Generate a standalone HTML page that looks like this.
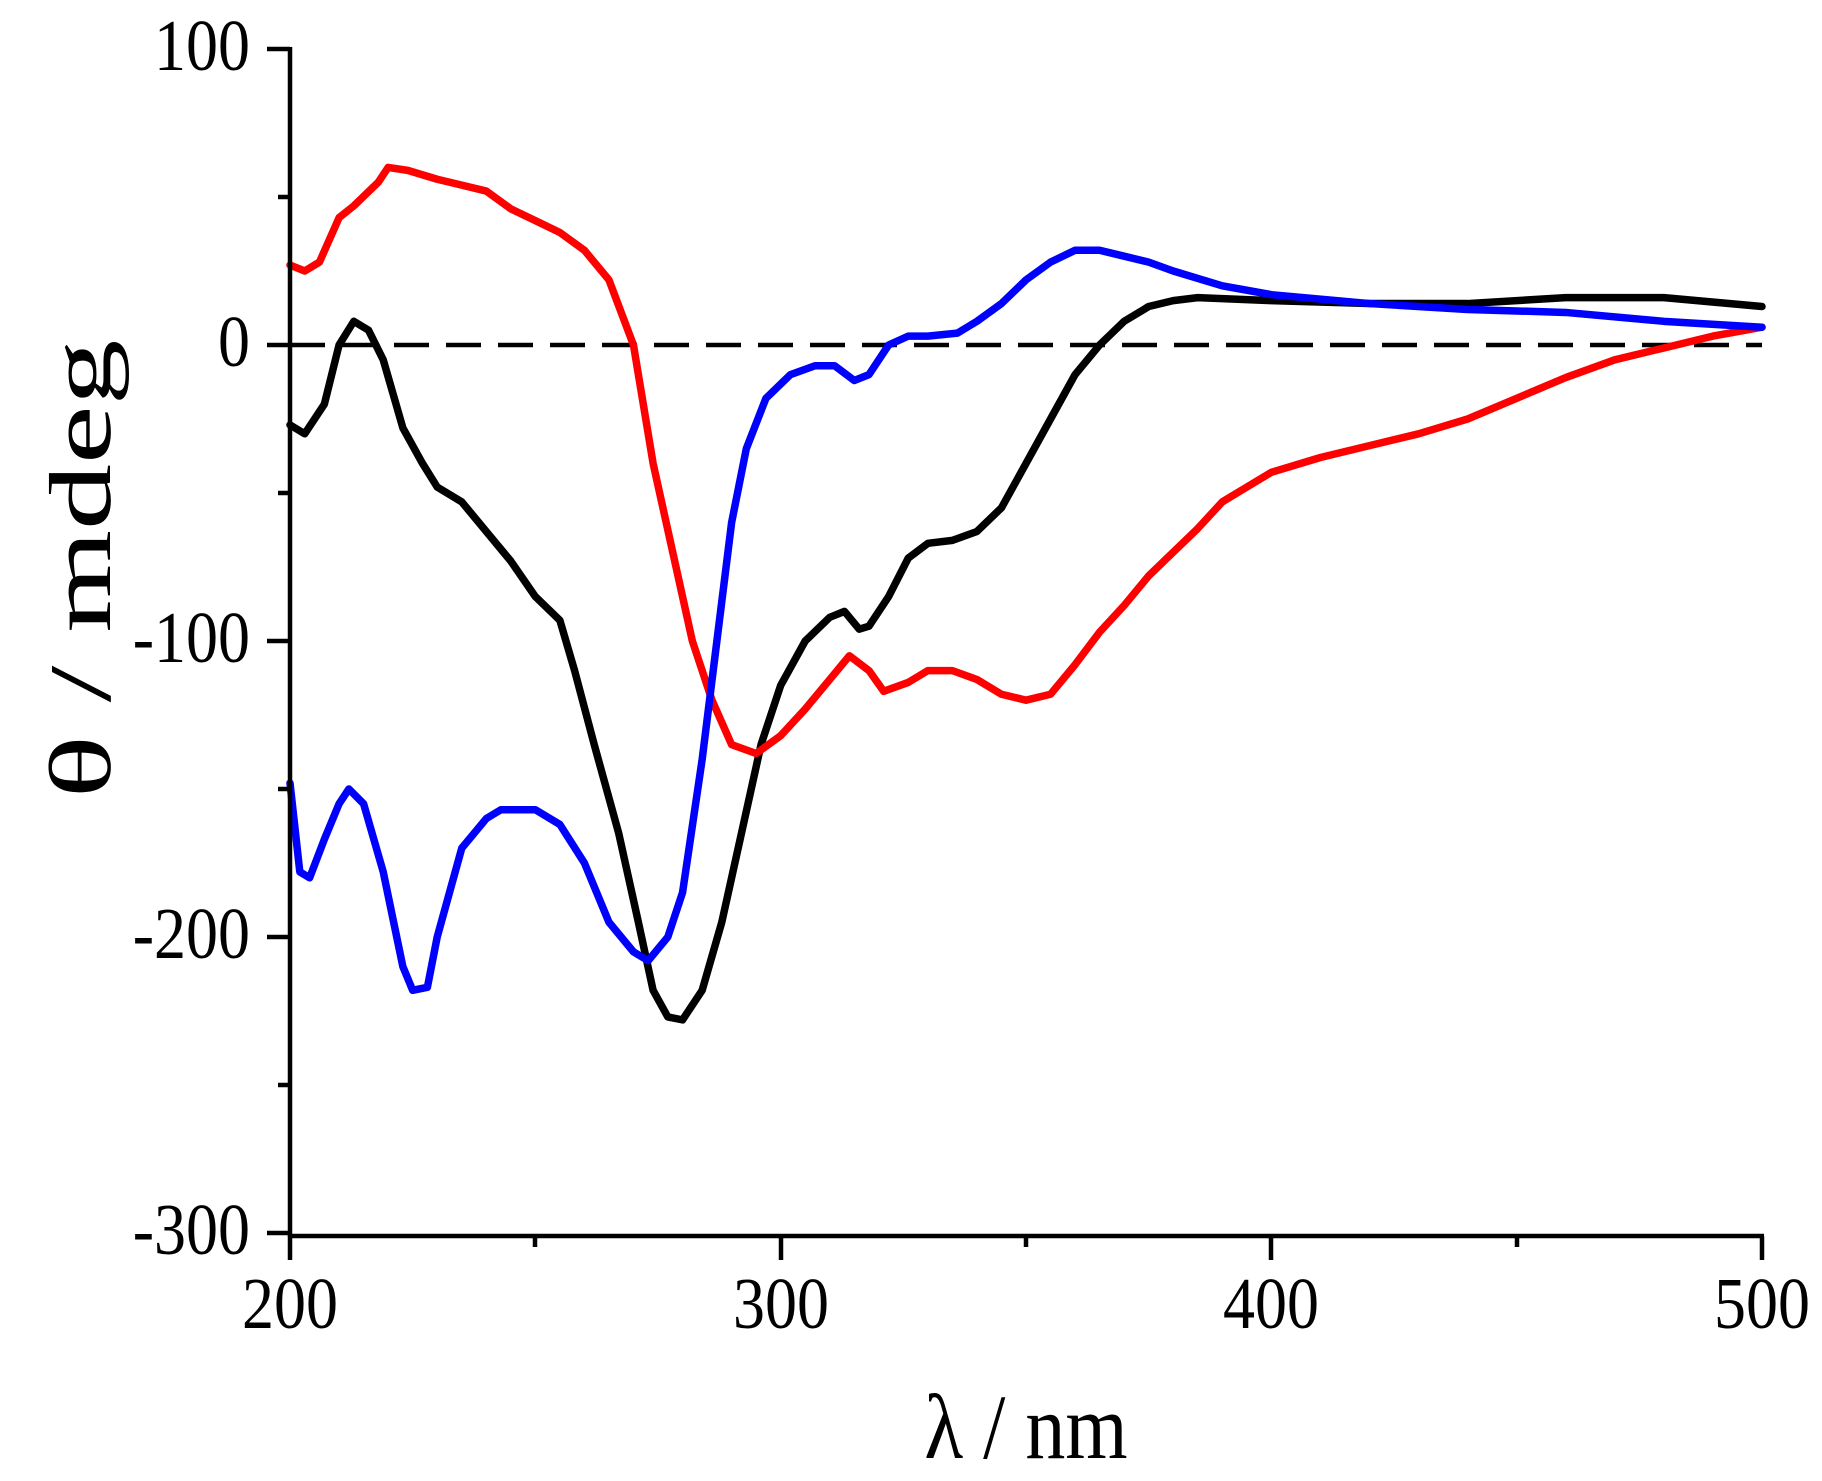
<!DOCTYPE html>
<html><head><meta charset="utf-8"><style>
html,body{margin:0;padding:0;background:#fff;}
svg{display:block;}
text{font-family:"Liberation Serif",serif;fill:#000;}
</style></head><body>
<svg width="1822" height="1481" viewBox="0 0 1822 1481" xmlns="http://www.w3.org/2000/svg">
<rect width="1822" height="1481" fill="#fff"/>
<g transform="translate(290,345) scale(4.9067,-2.96) translate(-200,0)" fill="none" stroke-linejoin="round" stroke-linecap="round">
<line x1="200" y1="0" x2="500" y2="0" stroke="#000" stroke-width="4.5" stroke-dasharray="35 17" vector-effect="non-scaling-stroke" stroke-linecap="butt"/>
<polyline vector-effect="non-scaling-stroke" stroke="#000" stroke-width="7.5" points="200,-27 203,-30 207,-20 210,0 213,8 216,5 219,-5 223,-28 227,-40 230,-48 235,-53 240,-63 245,-73 250,-85 255,-93 258,-110 262,-135 267,-165 271,-195 274,-218 277,-227 280,-228 284,-218 288,-195 292,-165 296,-135 300,-115 305,-100 310,-92 313,-90 316,-96 318,-95 322,-85 326,-72 330,-67 335,-66 340,-63 345,-55 350,-40 355,-25 360,-10 365,0 370,8 375,13 380,15 385,16 400,15 420,14 440,14 460,16 480,16 500,13"/>
<polyline vector-effect="non-scaling-stroke" stroke="#ff0000" stroke-width="7.5" points="200,27 203,25 206,28 210,43 213,47 218,55 220,60 224,59 230,56 235,54 240,52 245,46 250,42 255,38 260,32 265,22 270,0 274,-40 278,-70 282,-100 286,-120 290,-135 295,-138 300,-132 305,-123 310,-113 314,-105 318,-110 321,-117 326,-114 330,-110 335,-110 340,-113 345,-118 350,-120 355,-118 360,-108 365,-97 370,-88 375,-78 380,-70 385,-62 390,-53 395,-48 400,-43 410,-38 420,-34 430,-30 440,-25 450,-18 460,-11 470,-5 480,-1 490,3 500,6"/>
<polyline vector-effect="non-scaling-stroke" stroke="#0000ff" stroke-width="7.5" points="200,-148 202,-178 204,-180 207,-167 210,-155 212,-150 215,-155 219,-178 223,-210 225,-218 228,-217 230,-200 235,-170 240,-160 243,-157 250,-157 255,-162 260,-175 265,-195 270,-205 273,-208 277,-200 280,-185 284,-140 287,-100 290,-60 293,-35 297,-18 302,-10 307,-7 311,-7 315,-12 318,-10 322,0 326,3 330,3 336,4 340,8 345,14 350,22 355,28 360,32 365,32 370,30 375,28 380,25 390,20 400,17 420,14 440,12 460,11 480,8 500,6"/>
</g>
<g stroke="#000" stroke-width="4.5" fill="none">
<line x1="290" y1="47" x2="290" y2="1237"/>
<line x1="288" y1="1236" x2="1764" y2="1236"/>
<line x1="267" y1="49" x2="290" y2="49"/>
<line x1="278" y1="197" x2="290" y2="197"/>
<line x1="267" y1="345" x2="290" y2="345"/>
<line x1="278" y1="493" x2="290" y2="493"/>
<line x1="267" y1="641" x2="290" y2="641"/>
<line x1="278" y1="789" x2="290" y2="789"/>
<line x1="267" y1="937" x2="290" y2="937"/>
<line x1="278" y1="1085" x2="290" y2="1085"/>
<line x1="267" y1="1233" x2="290" y2="1233"/>
<line x1="290" y1="1236" x2="290" y2="1260"/>
<line x1="535" y1="1236" x2="535" y2="1247"/>
<line x1="781" y1="1236" x2="781" y2="1260"/>
<line x1="1026" y1="1236" x2="1026" y2="1247"/>
<line x1="1271" y1="1236" x2="1271" y2="1260"/>
<line x1="1517" y1="1236" x2="1517" y2="1247"/>
<line x1="1762" y1="1236" x2="1762" y2="1260"/>
</g>
<g font-size="64" text-anchor="end">
<text transform="translate(250,70) scale(1,1.15)">100</text>
<text transform="translate(250,366) scale(1,1.15)">0</text>
<text transform="translate(250,662) scale(1,1.15)">-100</text>
<text transform="translate(250,958) scale(1,1.15)">-200</text>
<text transform="translate(250,1254) scale(1,1.15)">-300</text>
</g>
<g font-size="64" text-anchor="middle">
<text transform="translate(290,1328) scale(1,1.15)">200</text>
<text transform="translate(781,1328) scale(1,1.15)">300</text>
<text transform="translate(1271,1328) scale(1,1.15)">400</text>
<text transform="translate(1762,1328) scale(1,1.15)">500</text>
</g>
<text transform="translate(1026,1458) scale(1,1.15)" font-size="80" text-anchor="middle">λ / nm</text>
<text transform="translate(110,569) rotate(-90) scale(1.5,1)" font-size="88" text-anchor="middle">θ / mdeg</text>
</svg>
</body></html>
